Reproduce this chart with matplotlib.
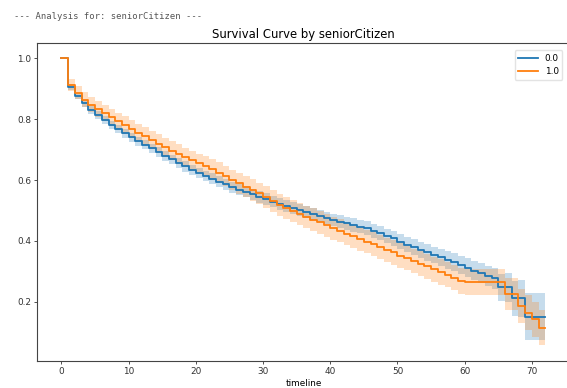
import numpy as np
import matplotlib
matplotlib.use('Agg')
import matplotlib.pyplot as plt


# Kaplan-Meier Schätzungen pro Gruppe, ein Wert pro Monat (0..72)
timeline = np.arange(0, 73)
groups = ["0.0", "1.0"]

surv_0 = [1.000, 0.905, 0.877, 0.852, 0.831, 0.813, 0.797, 0.782, 0.768, 0.754,
          0.741, 0.728, 0.716, 0.704, 0.692, 0.680, 0.668, 0.656, 0.645, 0.634,
          0.623, 0.613, 0.604, 0.595, 0.586, 0.577, 0.569, 0.561, 0.553, 0.545,
          0.537, 0.529, 0.521, 0.514, 0.507, 0.501, 0.495, 0.488, 0.482, 0.475,
          0.469, 0.463, 0.458, 0.452, 0.447, 0.441, 0.433, 0.425, 0.416, 0.408,
          0.398, 0.388, 0.379, 0.370, 0.362, 0.354, 0.346, 0.338, 0.330, 0.321,
          0.312, 0.302, 0.293, 0.285, 0.277, 0.247, 0.247, 0.211, 0.211, 0.151,
          0.151, 0.151, 0.151]

surv_1 = [1.000, 0.913, 0.888, 0.865, 0.848, 0.834, 0.820, 0.807, 0.794, 0.781,
          0.768, 0.756, 0.744, 0.732, 0.720, 0.708, 0.697, 0.686, 0.675, 0.665,
          0.655, 0.645, 0.635, 0.625, 0.614, 0.600, 0.589, 0.578, 0.567, 0.556,
          0.544, 0.531, 0.519, 0.507, 0.497, 0.488, 0.479, 0.470, 0.461, 0.451,
          0.442, 0.433, 0.424, 0.415, 0.406, 0.398, 0.389, 0.380, 0.371, 0.362,
          0.352, 0.343, 0.334, 0.325, 0.316, 0.307, 0.298, 0.289, 0.279, 0.268,
          0.266, 0.266, 0.266, 0.266, 0.266, 0.266, 0.225, 0.225, 0.186, 0.164,
          0.142, 0.115, 0.115]

# halbe Breite des 95%-Konfidenzbands
ci_0 = [0.000, 0.010, 0.011, 0.012, 0.012, 0.013, 0.013, 0.014, 0.014, 0.014,
        0.015, 0.015, 0.015, 0.016, 0.016, 0.016, 0.016, 0.017, 0.017, 0.017,
        0.017, 0.017, 0.018, 0.018, 0.018, 0.018, 0.018, 0.018, 0.019, 0.019,
        0.019, 0.019, 0.019, 0.020, 0.020, 0.020, 0.020, 0.020, 0.021, 0.021,
        0.021, 0.021, 0.022, 0.022, 0.022, 0.023, 0.023, 0.023, 0.024, 0.024,
        0.025, 0.025, 0.026, 0.026, 0.027, 0.027, 0.028, 0.029, 0.029, 0.030,
        0.031, 0.032, 0.033, 0.034, 0.035, 0.045, 0.047, 0.058, 0.060, 0.078,
        0.078, 0.078, 0.078]

ci_1 = [0.000, 0.020, 0.022, 0.024, 0.025, 0.026, 0.027, 0.028, 0.028, 0.029,
        0.029, 0.030, 0.030, 0.030, 0.031, 0.031, 0.031, 0.032, 0.032, 0.032,
        0.032, 0.033, 0.033, 0.033, 0.034, 0.034, 0.034, 0.034, 0.035, 0.035,
        0.035, 0.035, 0.036, 0.036, 0.036, 0.036, 0.037, 0.037, 0.037, 0.037,
        0.038, 0.038, 0.038, 0.038, 0.039, 0.039, 0.039, 0.039, 0.040, 0.040,
        0.040, 0.040, 0.041, 0.041, 0.041, 0.041, 0.042, 0.042, 0.042, 0.043,
        0.043, 0.043, 0.043, 0.043, 0.043, 0.043, 0.052, 0.052, 0.056, 0.057,
        0.058, 0.058, 0.058]

colors = ["tab:blue", "tab:orange"]

fig = plt.figure(figsize=(5.67, 3.88), dpi=100)
fig.text(0.025, 0.957, "--- Analysis for: seniorCitizen ---", family="DejaVu Sans Mono",
         fontsize=6.4, color="#555555", va="center")

ax = fig.add_axes([0.0658, 0.0696, 0.9386, 0.8196])

for label, surv, ci, color in zip(groups, [surv_0, surv_1], [ci_0, ci_1], colors):
    surv = np.array(surv)
    ci = np.array(ci)
    ax.step(timeline, surv, where="post", color=color, lw=1.3, label=label)
    ax.fill_between(timeline, surv - ci, surv + ci, step="post", color=color,
                    alpha=0.25, lw=0)

ax.set_xlim(-3.6, 75.6)
ax.set_ylim(0.005, 1.051)
ax.set_xticks([0, 10, 20, 30, 40, 50, 60, 70])
ax.set_yticks([0.2, 0.4, 0.6, 0.8, 1.0])
ax.tick_params(labelsize=6.4, length=2.3, width=0.6, colors="#333333", pad=2)
for s in ax.spines.values():
    s.set_linewidth(0.8)
    s.set_color("#444444")

ax.set_title("Survival Curve by seniorCitizen", fontsize=8.4, pad=3.5)
ax.set_xlabel("timeline", fontsize=6.4, labelpad=2)
ax.legend(loc="upper right", fontsize=6.4, handlelength=2.2, borderaxespad=0.8,
          framealpha=0.8, edgecolor="#dddddd")

plt.savefig("out.png", dpi=100)
